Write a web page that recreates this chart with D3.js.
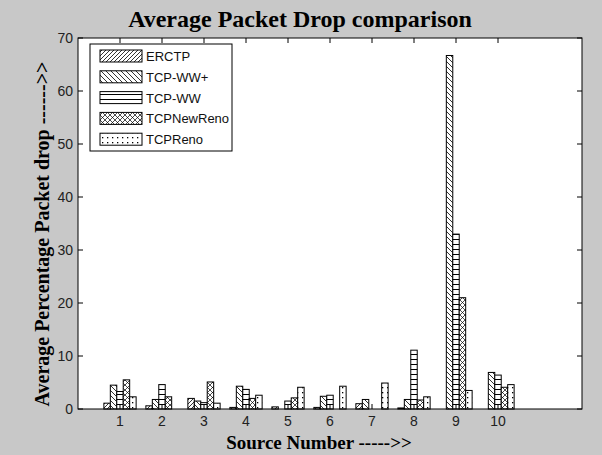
<!DOCTYPE html>
<html><head><meta charset="utf-8">
<script src="https://cdn.jsdelivr.net/npm/d3@7"></script>
<style>
html,body{margin:0;padding:0;background:#c8c8c8;}
svg{display:block;}
</style></head>
<body>
<svg id="chart" width="602" height="455"></svg>
<script>
const sources = [1,2,3,4,5,6,7,8,9,10];
const seriesNames = ["ERCTP","TCP-WW+","TCP-WW","TCPNewReno","TCPReno"];
const erctp      = [1.1, 0.6, 2.0, 0.3, 0.4, 0.3, 1.0, 0.2, 0.0, 0.0];
const tcpWWplus  = [4.5, 1.8, 1.5, 4.3, 0.0, 2.4, 1.8, 1.8, 66.7, 6.9];
const tcpWW      = [3.3, 4.6, 1.2, 3.7, 1.5, 2.6, 0.0, 11.1, 33.0, 6.4];
const tcpNewReno = [5.5, 2.3, 5.1, 2.0, 2.1, 0.0, 0.0, 1.7, 21.0, 4.1];
const tcpReno    = [2.3, 0.0, 1.1, 2.6, 4.1, 4.3, 4.9, 2.3, 3.5, 4.6];
const yTicks = [0,10,20,30,40,50,60,70];
const xTicks = [1,2,3,4,5,6,7,8,9,10];
const seriesValues = [erctp, tcpWWplus, tcpWW, tcpNewReno, tcpReno];

const svg = d3.select("#chart");
const L = 78, R = 582, T = 38, B = 409;
const x = d3.scaleLinear().domain([0,12]).range([L,R]);
const y = d3.scaleLinear().domain([0,70]).range([B,T]);
const sub = d3.scaleBand().domain(seriesNames).range([-0.384,0.384]);

// patterns
const defs = svg.append("defs");
function pat(id, w, h, draw){
  const p = defs.append("pattern").attr("id",id).attr("patternUnits","userSpaceOnUse")
    .attr("width",w).attr("height",h);
  p.append("rect").attr("width",w).attr("height",h).attr("fill","#fff");
  draw(p);
}
pat("p0",4,4,p=>{ p.append("path").attr("d","M-1,1 L1,-1 M0,4 L4,0 M3,5 L5,3").attr("stroke","#000").attr("stroke-width",0.8); });
pat("p1",5,5,p=>{ p.append("path").attr("d","M-1,4 L1,6 M0,0 L5,5 M4,-1 L6,1").attr("stroke","#000").attr("stroke-width",0.8); });
pat("p2",5,5,p=>{ p.append("path").attr("d","M0,4.5 L5,4.5").attr("stroke","#000").attr("stroke-width",1); });
pat("p3",5,5,p=>{ p.append("path").attr("d","M0,0 L5,5 M5,0 L0,5").attr("stroke","#000").attr("stroke-width",0.7); });
pat("p4",5,5,p=>{ p.append("rect").attr("x",2).attr("y",2).attr("width",1.3).attr("height",1.3).attr("fill","#000"); });

// plot area
svg.append("rect").attr("x",L).attr("y",T).attr("width",R-L).attr("height",B-T).attr("fill","#fff");

// bars
const g = svg.append("g");
seriesNames.forEach((s,i)=>{
  g.selectAll(null).data(sources.map((src,j)=>({src, v:seriesValues[i][j]})))
   .enter().append("rect")
   .attr("x",d=>x(d.src+sub(s)))
   .attr("y",d=>y(d.v))
   .attr("width",x(sub.bandwidth())-x(0))
   .attr("height",d=>y(0)-y(d.v))
   .attr("fill","url(#p"+i+")")
   .attr("stroke","#000").attr("stroke-width",1);
});

// axes frame
svg.append("rect").attr("x",L).attr("y",T).attr("width",R-L).attr("height",B-T)
  .attr("fill","none").attr("stroke","#000").attr("stroke-width",1);
const axG = svg.append("g").attr("font-family","Liberation Sans, Arial, sans-serif").attr("font-size",14).attr("fill","#222");
yTicks.forEach(t=>{
  axG.append("line").attr("x1",L).attr("x2",L+5).attr("y1",y(t)).attr("y2",y(t)).attr("stroke","#000");
  axG.append("line").attr("x1",R).attr("x2",R-5).attr("y1",y(t)).attr("y2",y(t)).attr("stroke","#000");
  axG.append("text").attr("x",L-5).attr("y",y(t)+5).attr("text-anchor","end").text(t);
});
xTicks.forEach(t=>{
  axG.append("line").attr("x1",x(t)).attr("x2",x(t)).attr("y1",B).attr("y2",B-5).attr("stroke","#000");
  axG.append("line").attr("x1",x(t)).attr("x2",x(t)).attr("y1",T).attr("y2",T+5).attr("stroke","#000");
  axG.append("text").attr("x",x(t)).attr("y",B+17).attr("text-anchor","middle").text(t);
});

// titles
const tf = "Liberation Serif, Times New Roman, serif";
svg.append("text").attr("x",300).attr("y",27).attr("text-anchor","middle")
  .attr("font-family",tf).attr("font-weight","bold").attr("font-size",24).text("Average Packet Drop comparison");
svg.append("text").attr("x",319).attr("y",449).attr("text-anchor","middle")
  .attr("font-family",tf).attr("font-weight","bold").attr("font-size",19).text("Source Number ----->>");
svg.append("text").attr("transform",`translate(49,234) rotate(-90)`).attr("text-anchor","middle")
  .attr("font-family",tf).attr("font-weight","bold").attr("font-size",20).text("Average Percentage Packet drop ------>>");

// legend
const lg = svg.append("g");
lg.append("rect").attr("x",90).attr("y",44).attr("width",142).attr("height",107).attr("fill","#fff").attr("stroke","#000");
seriesNames.forEach((s,i)=>{
  const cy = 56 + i*20.8;
  lg.append("rect").attr("x",100).attr("y",cy-6).attr("width",42).attr("height",12)
    .attr("fill","url(#p"+i+")").attr("stroke","#000");
  lg.append("text").attr("x",146).attr("y",cy+5).attr("font-family","Liberation Sans, Arial, sans-serif")
    .attr("font-size",13).attr("fill","#111").text(s);
});
</script>
</body></html>
